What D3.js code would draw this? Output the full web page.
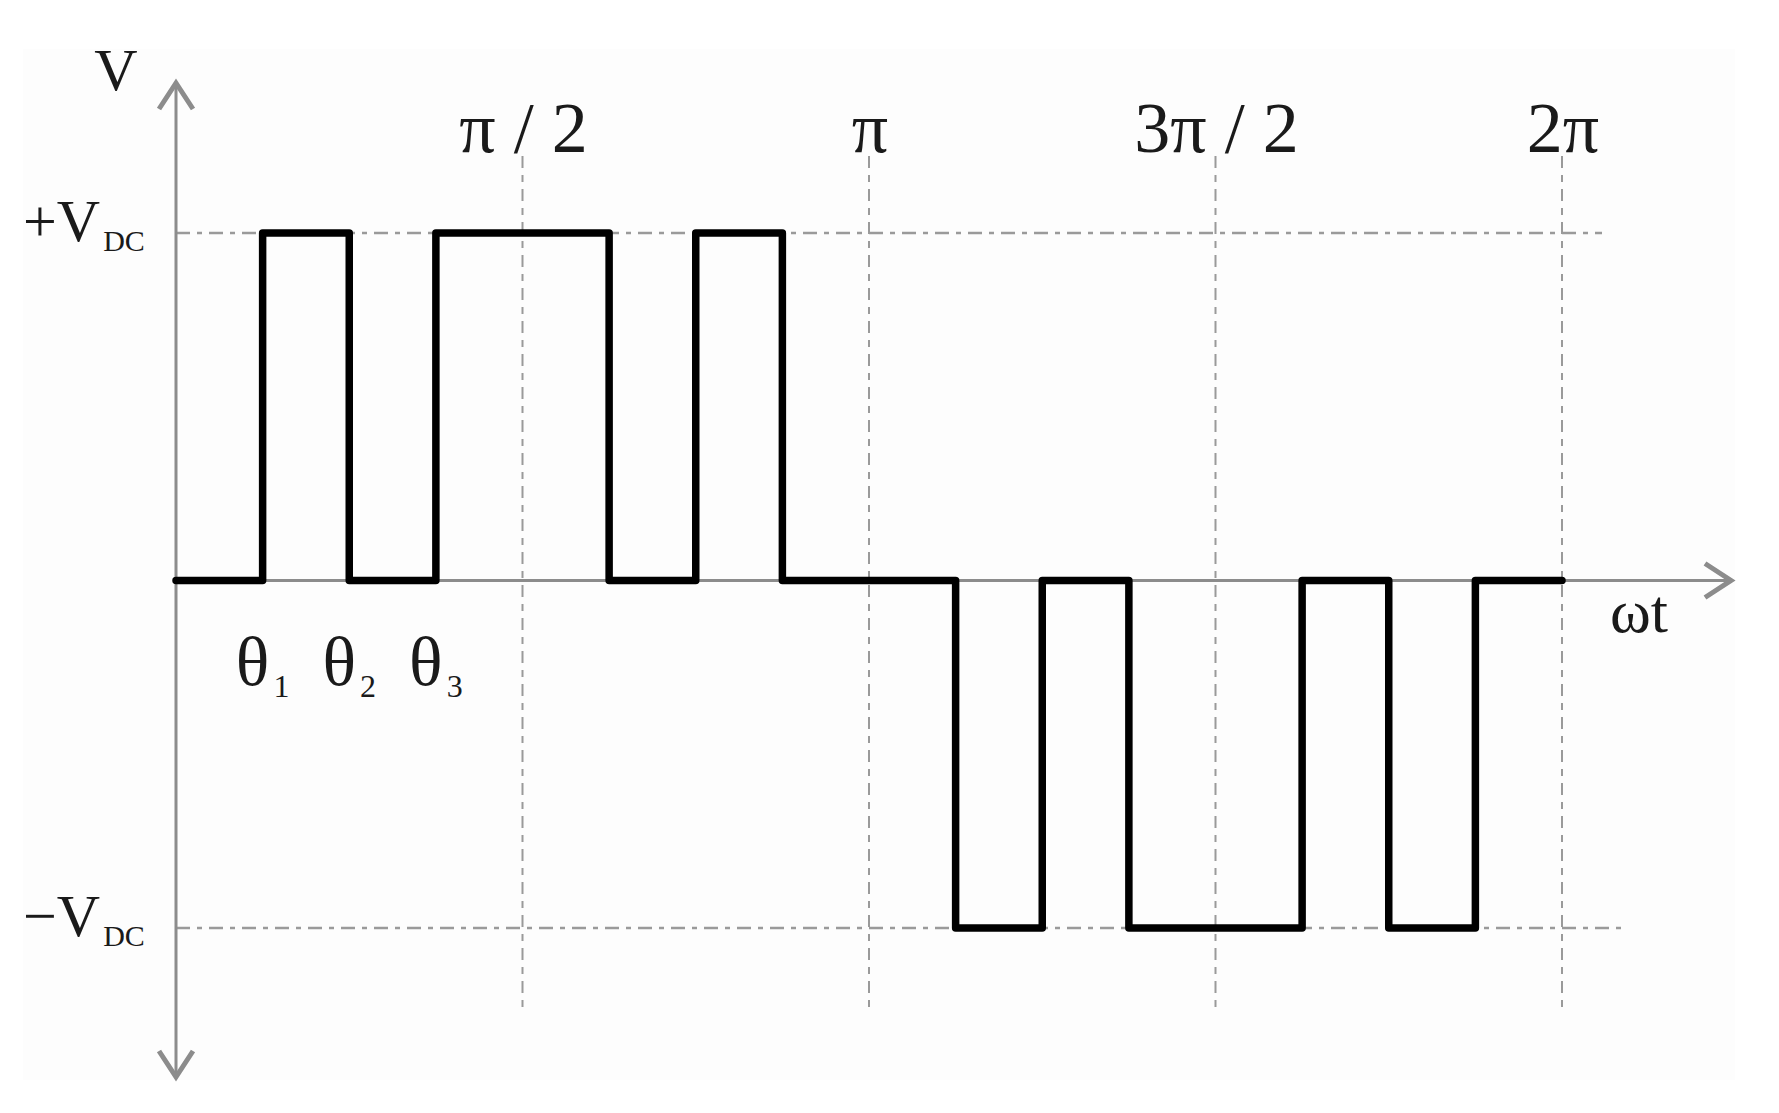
<!DOCTYPE html>
<html>
<head>
<meta charset="utf-8">
<script src="https://cdn.jsdelivr.net/npm/d3@7"></script>
<style>
  html, body { margin: 0; padding: 0; background: #ffffff; }
  svg { display: block; }
  text { font-family: "Liberation Serif", "DejaVu Serif", serif; fill: #1a1a1a; }
</style>
</head>
<body>
<svg id="chart" width="1779" height="1113"></svg>
<script>
// ---- data ----
const switchAnglesDeg = [0, 22.5, 45, 67.5, 112.5, 135, 157.5, 202.5, 225, 247.5, 292.5, 315, 337.5, 360];
const outputLevels    = [0, 1, 0, 1, 0, 1, 0, -1, 0, -1, 0, -1, 0, 0];
const tickAnglesDeg   = [90, 180, 270, 360];
const tickLabels      = ["π / 2", "π", "3π / 2", "2π"];
const levelValues     = [1, -1];
const levelLabels     = ["+V", "−V"];
const levelSub        = ["DC", "DC"];
const thetaAnglesDeg  = [22.5, 45, 67.5];
const thetaSubs       = ["1", "2", "3"];
const xAxisTitle      = "ωt";
const yAxisTitle      = "V";

// ---- layout ----
const svg = d3.select("#chart");
const x = d3.scaleLinear().domain([0, 360]).range([176, 1562]);
const y = d3.scaleLinear().domain([-1, 1]).range([928, 233]);
const axisColor = "#8c8c8c";
const gridColor = "#9a9a9a";

// panel background
svg.append("rect").attr("x", 23).attr("y", 49).attr("width", 1712).attr("height", 1031)
  .attr("fill", "#fdfdfd");
svg.append("clipPath").attr("id", "panelClip")
  .append("rect").attr("x", 23).attr("y", 49).attr("width", 1712).attr("height", 1031);

// vertical grid lines
svg.append("g").selectAll("line").data(tickAnglesDeg).join("line")
  .attr("x1", d => x(d)).attr("x2", d => x(d))
  .attr("y1", 156).attr("y2", 1007)
  .attr("stroke", gridColor).attr("stroke-width", 2)
  .attr("stroke-dasharray", "12,7,7,7");

// horizontal level lines
const levelEnds = [1602, 1622];
svg.append("g").selectAll("line").data(levelValues).join("line")
  .attr("x1", x(0)).attr("x2", (d, i) => levelEnds[i])
  .attr("y1", d => y(d)).attr("y2", d => y(d))
  .attr("stroke", gridColor).attr("stroke-width", 2.5)
  .attr("stroke-dasharray", "14,7,5,7");

// axes
const axes = svg.append("g").attr("stroke", axisColor).attr("fill", "none");
axes.append("line").attr("x1", x(0)).attr("x2", x(0)).attr("y1", 82).attr("y2", 1078).attr("stroke-width", 3);
axes.append("line").attr("x1", x(0)).attr("x2", 1732).attr("y1", y(0)).attr("y2", y(0)).attr("stroke-width", 3);
// arrow heads (chevrons)
const x0 = x(0), yz = y(0);
axes.append("path").attr("d", `M${x0 - 17},${109} L${x0},${83} L${x0 + 17},${109}`).attr("stroke-width", 5);
axes.append("path").attr("d", `M${x0 - 17},${1051} L${x0},${1077} L${x0 + 17},${1051}`).attr("stroke-width", 5);
axes.append("path").attr("d", `M${1705},${yz - 17} L${1731},${yz} L${1705},${yz + 17}`).attr("stroke-width", 5);

// waveform
const data = switchAnglesDeg.map((a, i) => ({ a, v: outputLevels[i] }));
const line = d3.line().x(d => x(d.a)).y(d => y(d.v)).curve(d3.curveStepAfter);
svg.append("path").datum(data)
  .attr("d", line)
  .attr("fill", "none").attr("stroke", "#000").attr("stroke-width", 7.5)
  .attr("stroke-linejoin", "round").attr("stroke-linecap", "round");

// tick labels
svg.append("g").selectAll("text").data(tickAnglesDeg).join("text")
  .attr("x", d => x(d) + 1).attr("y", 152)
  .attr("text-anchor", "middle").attr("font-size", 72)
  .text((d, i) => tickLabels[i]);

// level labels
const levelText = svg.append("g").selectAll("text").data(levelValues).join("text")
  .attr("x", 23).attr("y", d => y(d) + 8).attr("font-size", 60);
levelText.append("tspan").text((d, i) => levelLabels[i]);
levelText.append("tspan").attr("font-size", 30).attr("dy", 10).attr("dx", 3).text((d, i) => levelSub[i]);

// theta labels
const thetaText = svg.append("g").selectAll("text").data(thetaAnglesDeg).join("text")
  .attr("x", d => x(d)).attr("y", 685).attr("text-anchor", "middle").attr("font-size", 70);
thetaText.append("tspan").text("θ");
thetaText.append("tspan").attr("font-size", 32).attr("dy", 12).attr("dx", 4).text((d, i) => thetaSubs[i]);

// axis titles
svg.append("text").attr("x", 1610).attr("y", 632).attr("font-size", 62).text(xAxisTitle);
svg.append("text").attr("x", 116).attr("y", 90).attr("text-anchor", "middle").attr("font-size", 60)
  .attr("clip-path", "url(#panelClip)").text(yAxisTitle);
</script>
</body>
</html>
